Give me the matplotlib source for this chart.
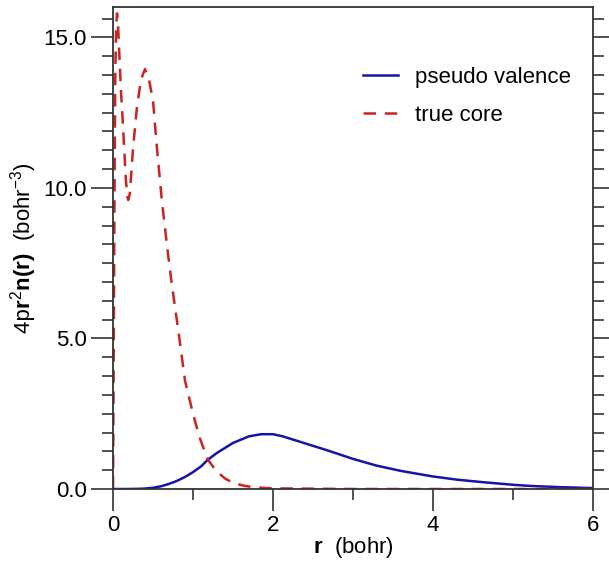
import matplotlib
matplotlib.use("Agg")
import matplotlib.pyplot as plt
from matplotlib.ticker import MultipleLocator, FormatStrFormatter

# true core density 4*pi*r^2*n(r)
core_r = [0.0, 0.01, 0.02, 0.03, 0.04, 0.05, 0.06, 0.08, 0.10, 0.12, 0.14, 0.16, 0.18,
          0.19, 0.21, 0.25, 0.30, 0.35, 0.40, 0.45, 0.50, 0.55, 0.61, 0.67, 0.73,
          0.83, 0.90, 1.00, 1.08, 1.18, 1.29, 1.40, 1.50, 1.65, 1.80, 2.00, 2.5,
          3.0, 4.0, 5.0, 6.0]
core_v = [0.0, 5.0, 10.5, 14.0, 15.4, 15.8, 15.6, 14.4, 13.2, 12.3, 11.3, 10.3, 9.7,
          9.6, 9.8, 11.3, 12.7, 13.6, 13.95, 13.6, 12.9, 11.3, 9.6, 8.2, 6.9,
          5.0, 3.6, 2.5, 1.73, 1.0, 0.6, 0.35, 0.2, 0.1, 0.05, 0.02, 0.01,
          0.0, 0.0, 0.0, 0.0]

# pseudo valence density
val_r = [0.0, 0.2, 0.3, 0.4, 0.5, 0.6, 0.7, 0.8, 0.9, 1.0, 1.1, 1.18, 1.3, 1.5, 1.7,
         1.85, 2.0, 2.12, 2.3, 2.66, 3.0, 3.29, 3.6, 3.99, 4.3, 4.61, 5.0, 5.23,
         5.6, 6.0]
val_v = [0.0, 0.0, 0.005, 0.015, 0.04, 0.09, 0.17, 0.27, 0.4, 0.56, 0.75, 0.96, 1.2,
         1.53, 1.75, 1.82, 1.82, 1.75, 1.6, 1.3, 1.0, 0.78, 0.6, 0.42, 0.31, 0.23,
         0.14, 0.1, 0.06, 0.03]

x_ticks = [0, 2, 4, 6]
y_ticks = [0.0, 5.0, 10.0, 15.0]

plt.rcParams['font.family'] = ['Liberation Sans', 'DejaVu Sans']
plt.rcParams['mathtext.fontset'] = 'custom'
plt.rcParams['mathtext.rm'] = 'Liberation Sans'
plt.rcParams['mathtext.bf'] = 'Liberation Sans:bold'
plt.rcParams['mathtext.it'] = 'Liberation Sans:italic'
plt.rcParams['mathtext.tt'] = 'Liberation Mono'

fig = plt.figure(figsize=(6.09, 5.61), dpi=100)
ax = fig.add_axes([113/609, 1 - 489/561, (593 - 113)/609, (489 - 7.3)/561])

ax.plot(val_r, val_v, color='#1414a8', lw=1.8, label='pseudo valence')
ax.plot(core_r, core_v, color='#cc2222', lw=1.8, dashes=(5, 3.5), label='true core')

ax.set_xlim(0, 6)
ax.set_ylim(0, 16)
ax.set_xticks(x_ticks)
ax.set_yticks(y_ticks)
ax.xaxis.set_minor_locator(MultipleLocator(1))
ax.yaxis.set_minor_locator(MultipleLocator(0.625))
ax.yaxis.set_major_formatter(FormatStrFormatter('%.1f'))
ax.tick_params(axis='both', which='major', direction='out', length=16, width=1.2,
               color='#333333', labelsize=16, pad=3)
ax.tick_params(axis='both', which='minor', direction='out', length=8, width=1.2,
               color='#333333')
ax.tick_params(axis='y', which='both', right=True)
ax.tick_params(axis='x', which='both', top=False)
for s in ax.spines.values():
    s.set_linewidth(1.3)
    s.set_color('#333333')

ax.set_xlabel(r'$\mathbf{r}$  (bohr)', fontsize=16, labelpad=-1)
ax.set_ylabel(r'4$\mathtt{p}$$\mathbf{r}^{2}\mathbf{n(r)}$  (bohr$^{-3}$)', fontsize=16, labelpad=3)

leg = ax.legend(loc='upper left', bbox_to_anchor=((354 - 113)/480, 1 - (58 - 7.3)/481.7),
                frameon=False, fontsize=16, handlelength=1.6, handletextpad=0.75,
                labelspacing=0.75, borderaxespad=0)

fig.savefig('out.png', dpi=100)
